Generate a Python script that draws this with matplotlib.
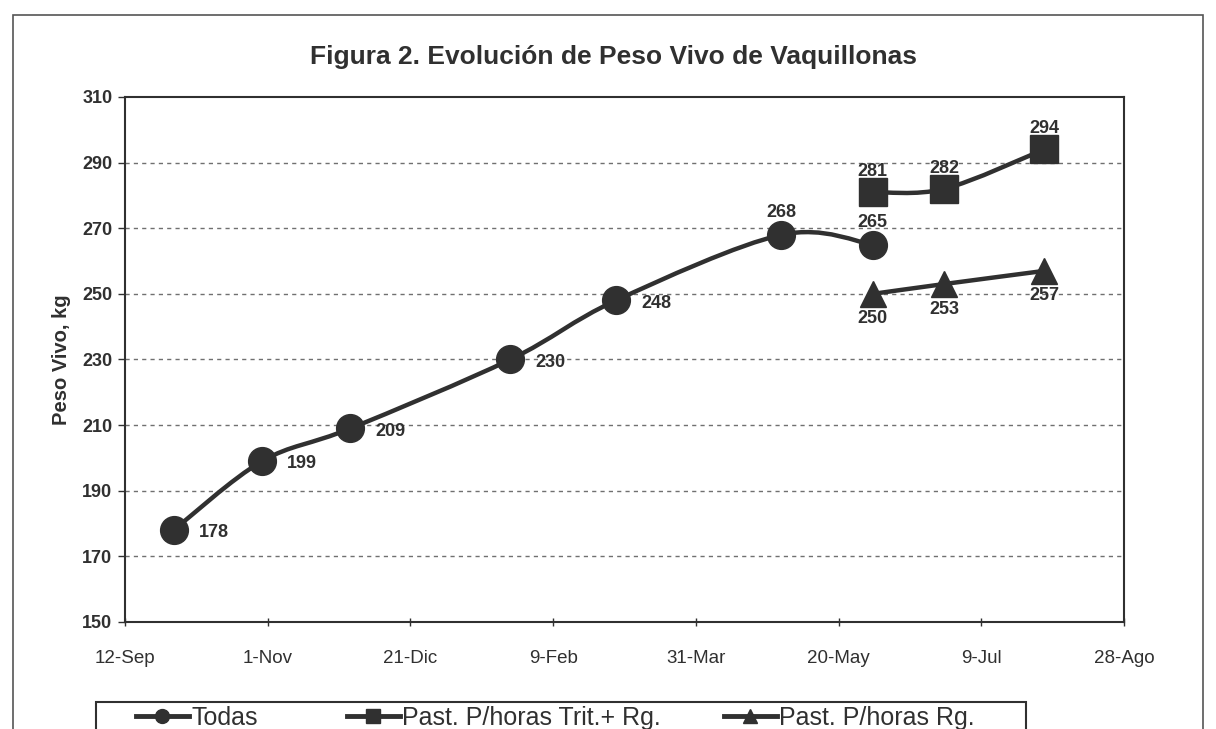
import matplotlib
matplotlib.use("Agg")
import matplotlib.pyplot as plt
import matplotlib.dates as mdates
from matplotlib.path import Path
from matplotlib.patches import PathPatch, Rectangle
from matplotlib.lines import Line2D
import numpy as np
import datetime as dt

plt.rcParams['font.family'] = ['Liberation Sans', 'DejaVu Sans']

# data
todas_fechas = ['2002-09-29', '2002-10-30', '2002-11-30', '2003-01-25',
                '2003-03-03', '2003-04-30', '2003-06-01']
todas_peso = [178, 199, 209, 230, 248, 268, 265]

trit_fechas = ['2003-06-01', '2003-06-26', '2003-07-31']
trit_peso = [281, 282, 294]

rg_fechas = ['2003-06-01', '2003-06-26', '2003-07-31']
rg_peso = [250, 253, 257]

tick_fechas = ['2002-09-12', '2002-11-01', '2002-12-21', '2003-02-09',
               '2003-03-31', '2003-05-20', '2003-07-09', '2003-08-28']
tick_labels = ['12-Sep', '1-Nov', '21-Dic', '9-Feb', '31-Mar', '20-May', '9-Jul', '28-Ago']

COLOR = '#303030'


def to_num(fechas):
    return mdates.date2num([dt.datetime.strptime(f, '%Y-%m-%d') for f in fechas])


def smooth_path(x, y):
    # excel style smoothed line: cubic bezier through the points
    p = np.column_stack([x, y])
    n = len(p)
    verts = [p[0]]
    codes = [Path.MOVETO]
    for i in range(n - 1):
        p0 = p[i - 1] if i > 0 else p[i]
        p3 = p[i + 2] if i + 2 < n else p[i + 1]
        c1 = p[i] + (p[i + 1] - p0) / 6.0
        c2 = p[i + 1] - (p3 - p[i]) / 6.0
        verts += [c1, c2, p[i + 1]]
        codes += [Path.CURVE4] * 3
    return Path(verts, codes)


fig = plt.figure(figsize=(12.16, 7.29), dpi=100)
ax = fig.add_axes([125 / 1216, 1 - 622 / 729, 999 / 1216, 525 / 729])

series = [
    (todas_fechas, todas_peso, 'o', 20),
    (trit_fechas, trit_peso, 's', 20),
    (rg_fechas, rg_peso, '^', 19),
]
for fechas, peso, mk, ms in series:
    x = to_num(fechas)
    ax.add_patch(PathPatch(smooth_path(x, np.array(peso, float)), fill=False,
                           lw=3.2, edgecolor=COLOR, zorder=3, transform=ax.transData))
    ax.plot(x, peso, linestyle='none', marker=mk, ms=ms, color=COLOR,
            markeredgecolor=COLOR, zorder=4)

lab_kw = dict(textcoords='offset points', fontsize=13, fontweight='bold',
              color=COLOR, zorder=5)
xt = to_num(todas_fechas)
for i, (x, v) in enumerate(zip(xt, todas_peso)):
    if i < 5:
        ax.annotate(str(v), (x, v), xytext=(18, -2), ha='left', va='center', **lab_kw)
    else:
        ax.annotate(str(v), (x, v), xytext=(0, 16), ha='center', va='center', **lab_kw)
for x, v in zip(to_num(trit_fechas), trit_peso):
    ax.annotate(str(v), (x, v), xytext=(0, 15), ha='center', va='center', **lab_kw)
for x, v in zip(to_num(rg_fechas), rg_peso):
    ax.annotate(str(v), (x, v), xytext=(0, -18), ha='center', va='center', **lab_kw)

ax.set_xlim(to_num(tick_fechas)[0], to_num(tick_fechas)[-1])
ax.set_ylim(150, 310)
ax.set_xticks(to_num(tick_fechas))
ax.set_xticklabels(tick_labels, fontsize=13.5)
ax.set_yticks(range(150, 311, 20))
ax.set_yticklabels([str(v) for v in range(150, 311, 20)], fontsize=13, fontweight='bold')
ax.tick_params(axis='y', direction='out', length=5, width=1, colors=COLOR, pad=4)
ax.tick_params(axis='x', direction='inout', length=6, width=1, colors=COLOR, pad=17)
for v in range(170, 300, 20):
    ax.axhline(v, color='#707070', lw=1, ls=(0, (3, 3)), zorder=1)
for s in ax.spines.values():
    s.set_color(COLOR)
    s.set_linewidth(1.5)
ax.set_ylabel('Peso Vivo, kg', fontsize=14.5, fontweight='bold', color=COLOR, labelpad=8)

fig.text(613 / 1216, 1 - 57 / 729, 'Figura 2. Evolución de Peso Vivo de Vaquillonas',
         ha='center', va='center', fontsize=19, fontweight='bold', color=COLOR)

# outer chart border
fig.patches.append(Rectangle((13 / 1216, -0.1), 1190 / 1216, 1.1 - 15 / 729,
                             transform=fig.transFigure, fill=False,
                             edgecolor='#555555', lw=1.2))

# legend box, cut at the bottom edge like the scan
fig.patches.append(Rectangle((96 / 1216, -0.1), 930 / 1216, 0.1 + 1 - 702 / 729,
                             transform=fig.transFigure, fill=False,
                             edgecolor=COLOR, lw=1.5))
names = ['Todas', 'Past. P/horas Trit.+ Rg.', 'Past. P/horas Rg.']
markers = ['o', 's', '^']
leg_x = [136, 347, 724]
for name, mk, lx in zip(names, markers, leg_x):
    h = Line2D([], [], color=COLOR, lw=3.5, marker=mk, ms=10)
    leg = fig.legend([h], [name], loc='center left',
                     bbox_to_anchor=(lx / 1216, 1 - 718 / 729),
                     fontsize=18, frameon=False, handlelength=2.1,
                     handletextpad=0.1, borderaxespad=0, borderpad=0)
    for t in leg.get_texts():
        t.set_color(COLOR)

fig.savefig('out.png', dpi=100)
